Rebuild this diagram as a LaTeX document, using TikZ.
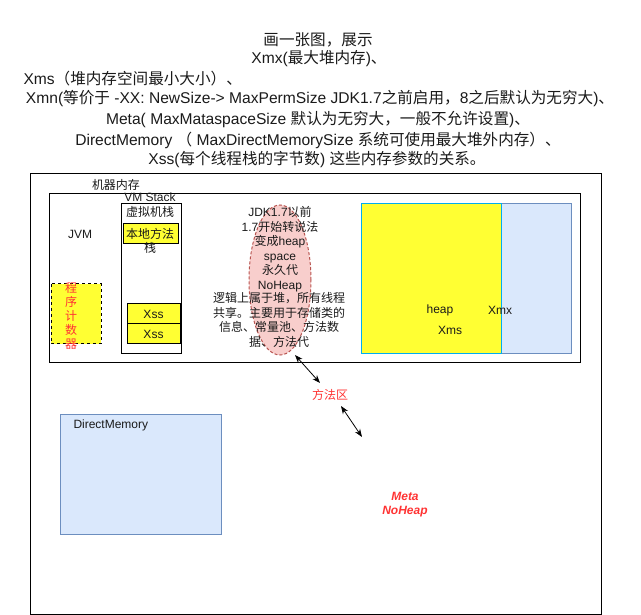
\documentclass[tikz,border=0pt]{standalone}
\usepackage{xcolor}
\usepackage{fontspec}
\usepackage{tikz}
\usetikzlibrary{shapes.geometric,arrows.meta}
\setmainfont{Liberation Sans}
\newfontfamily\cjk{Noto Sans CJK SC}
% switch to the CJK family for Chinese characters
\XeTeXinterchartokenstate=1
\newXeTeXintercharclass\cjkcls
\count255="3000
\loop
  \XeTeXcharclass\count255=\cjkcls
\ifnum\count255<"303F
  \advance\count255 by 1
\repeat
\count255="4E00
\loop
  \XeTeXcharclass\count255=\cjkcls
\ifnum\count255<"9FFF
  \advance\count255 by 1
\repeat
\count255="FF00
\loop
  \XeTeXcharclass\count255=\cjkcls
\ifnum\count255<"FFEF
  \advance\count255 by 1
\repeat
\XeTeXinterchartoks 0 \cjkcls = {\cjk}
\XeTeXinterchartoks 4095 \cjkcls = {\cjk}
\XeTeXinterchartoks \cjkcls 0 = {\rmfamily}
\XeTeXinterchartoks \cjkcls 4095 = {\rmfamily}

\definecolor{txt}{HTML}{1A1A1A}
\definecolor{hotred}{HTML}{FF3333}
\definecolor{lemon}{HTML}{FFFF33}
\definecolor{skyfill}{HTML}{DAE8FC}
\definecolor{skyline}{HTML}{6C8EBF}
\definecolor{pinkfill}{HTML}{F8CECC}
\definecolor{pinkline}{HTML}{B85450}

\begin{document}
\begin{tikzpicture}[x=1pt,y=-1pt,line width=1pt,
    title/.style={draw=none,text=txt,font=\fontsize{15.6}{20}\selectfont},
    lbl/.style={draw=none,text=txt,align=center,inner sep=0pt,font=\fontsize{12}{14.5}\selectfont},
    redlbl/.style={lbl,text=hotred},
    dblarrow/.style={{Stealth[length=8pt,width=6pt]}-{Stealth[length=8pt,width=6pt]},line width=0.8pt,black}]
             \useasboundingbox (0,0) rectangle (641,615);

             \node[title] (t1) at (318, 40) {画一张图，展示};
             \node[title] (t2) at (319, 59) {Xmx(最大堆内存)、};
             \node[title,anchor=west,inner sep=0pt] (t3) at (23, 79) {Xms（堆内存空间最小大小）、};
             \node[title] (t4) at (320, 99) {Xmn(等价于 -XX: NewSize-> MaxPermSize JDK1.7之前启用，8之后默认为无穷大)、};
             \node[title] (t5) at (318, 120) {Meta( MaxMataspaceSize 默认为无穷大，一般不允许设置)、};
             \node[title] (t6) at (318, 140) {DirectMemory （ MaxDirectMemorySize 系统可使用最大堆外内存）、};
             \node[title] (t7) at (317, 160) {Xss(每个线程栈的字节数) 这些内存参数的关系。};

             \draw (30, 174) rectangle (601, 614);
             \node[lbl] (machine) at (116, 185) {机器内存};

             \draw (49, 194) rectangle (580, 363);
             \node[lbl] (jvm) at (80, 234) {JVM};

             \draw (121, 204) rectangle (181, 354);
             \node[lbl] (vmstack) at (150, 197) {VM Stack};
             \node[lbl] (vmstackcn) at (150, 212) {虚拟机栈};
             \draw[fill=lemon] (123, 224) rectangle (178, 244);
             \node[lbl] (native) at (150, 241) {本地方法\\栈};
             \draw[fill=lemon] (127, 304) rectangle (180, 324);
             \node[lbl] (xss1) at (153.5, 314) {Xss};
             \draw[fill=lemon] (127, 324) rectangle (180, 344);
             \node[lbl] (xss2) at (153.5, 334) {Xss};

             \draw[fill=lemon,dash pattern=on 3pt off 3pt] (51, 284) rectangle (101, 344);
             \node[redlbl,font=\fontsize{12}{14}\selectfont] (pc) at (71, 316) {程\\序\\计\\数\\器};

             \node[ellipse,draw=pinkline,fill=pinkfill,dash pattern=on 3pt off 2pt,
                   minimum width=62,minimum height=150,inner sep=0pt] (permgen) at (280, 280) {};
             \node[lbl] (permtext) at (280, 249) {JDK1.7以前\\1.7开始转说法\\变成heap\\space\\永久代\\NoHeap};
             \node[lbl] (permnote) at (279, 320) {逻辑上属于堆，所有线程\\共享。主要用于存储类的\\信息、常量池、方法数\\据、方法代};

             \draw[draw=skyline,fill=skyfill] (361, 204) rectangle (571, 354);
             \draw[draw=cyan,fill=lemon] (361, 204) rectangle (501, 354);
             \node[lbl] (heap) at (440, 310) {heap};
             \node[lbl] (xms) at (450, 330) {Xms};
             \node[lbl] (xmx) at (500, 310) {Xmx};

             \node[redlbl] (methodarea) at (330, 395) {方法区};
             \coordinate (a1) at (295, 355);
             \coordinate (a2) at (320, 383);
             \coordinate (b1) at (341, 406);
             \coordinate (b2) at (362, 437);
             \draw[dblarrow] (a1) -- (a2);
             \draw[dblarrow] (b1) -- (b2);

             \draw[draw=skyline,fill=skyfill] (60, 414) rectangle (221, 534);
             \node[lbl,anchor=west] (direct) at (73, 425) {DirectMemory};

             \node[redlbl,font=\fontsize{12}{14}\selectfont\bfseries\itshape] (meta) at (405, 505) {Meta\\NoHeap};
             \end{tikzpicture}
\end{document}
